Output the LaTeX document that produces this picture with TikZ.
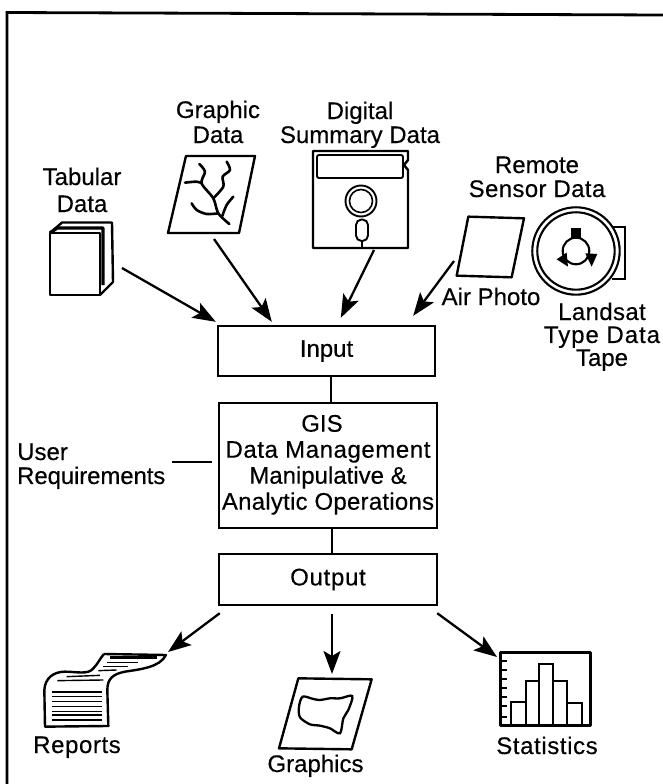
\documentclass[tikz,border=0pt]{standalone}
\usepackage{fontspec}
\setmainfont[FakeBold=0.35]{Liberation Sans}
\usetikzlibrary{arrows.meta,calc}
\newcommand\txt[4]{\fontsize{24}{#2}\selectfont\addfontfeature{LetterSpace=#3}\setlength{\tabcolsep}{0pt}\begin{tabular}[t]{#1}#4\end{tabular}}
\newcommand\lsp[1]{\addfontfeature{LetterSpace=#1}}
\tikzset{
  box/.style={draw,line width=2.4pt,inner sep=0pt,font=\fontsize{24}{26}\selectfont},
  lab/.style={inner sep=0pt,anchor=base},
  arr/.style={line width=2.3pt,-{Stealth[length=23pt,width=17pt,inset=5pt]}},
  conn/.style={line width=2pt},
  icon/.style={line width=2.4pt,line join=round},
  z1/.style={shift={(0,70)},x=0.3333pt,y=-0.3333pt},
  z2/.style={shift={(330,70)},x=0.3333pt,y=-0.3333pt},
  z3/.style={shift={(0,580)},x=0.3333pt,y=-0.3333pt},
  z4/.style={shift={(340,580)},x=0.3333pt,y=-0.3333pt},
  z8/.style={shift={(230,630)},x=0.3333pt,y=-0.3333pt},
}
\begin{document}
\begin{tikzpicture}[x=1pt,y=-1pt]
\useasboundingbox (0,0) rectangle (663,784);
% frame
\draw[line width=2.8pt] (7,784) -- (7,12.5) -- (663,15);
% boxes
\node[box,minimum width=217pt,minimum height=50pt] (input) at (326.5,351) {\raisebox{-2pt}{Input}};
\node[box,minimum width=218pt,minimum height=125pt] (gis) at (328,465.5)
  {\txt{c}{26}{0}{GIS\kern12pt\\ \lsp{2.4}Data Management\\ Manipulative \&\\ \lsp{1}Analytic Operations}};
\node[box,minimum width=218pt,minimum height=51pt] (output) at (328,579.5) {\raisebox{-1.5pt}{\lsp{3}Output}};
\draw[conn] (input.south -| 331,0) -- (gis.north -| 331,0);
\draw[conn] (gis.south -| 332,0) -- (output.north -| 332,0);
% labels
\node[lab] (tabularL) at (82,185) {\txt{c}{27}{0}{Tabular\\Data}};
\node[lab] (graphicL) at (218,118) {\txt{c}{25}{0}{Graphic\\Data}};
\node[lab] (digitalL) at (360,119) {\txt{c}{24}{0}{Digital\\Summary Data}};
\node[lab] (remoteL) at (537,173) {\txt{c}{24}{0}{Remote\\\lsp{1.5}Sensor Data}};
\node[lab] (airL) at (491,305) {\txt{c}{24}{0}{Air Photo}};
\node[lab] (landsatL) at (602,320) {\txt{c}{21.5}{0}{\lsp{1.5}Landsat\\\lsp{4}Type Data\\Tape}};
\node[lab,anchor=base west] (userL) at (17,460) {\txt{l}{22}{0}{User\\\lsp{-0.5}Requirements}};
\node[lab] (reportsL) at (77,753) {\txt{c}{24}{2.4}{Reports}};
\node[lab] (graphicsL) at (315.5,772) {\txt{c}{24}{0}{Graphics}};
\node[lab] (statsL) at (547,754) {\txt{c}{24}{2.5}{Statistics}};
% tabular data icon
\begin{scope}[icon]
\draw (50,233) -- (62,222.5) -- (112,222.5) -- (113,282) -- (100,295);
\draw[line width=3.4pt] (50,233) -- (57,228) -- (103,228) -- (103,285);
\draw[line width=2.6pt] (50,233) rectangle (100,295);
\end{scope}
% graphic data icon
\draw[icon] (186,156) -- (255,156) -- (239,233) -- (168,233) -- cycle;
\begin{scope}[z1,line width=2.6pt,line cap=round,line join=round]
\draw plot[smooth] coordinates {(688,462) (655,430) (640,385) (605,340) (615,305) (598,282)};
\draw plot[smooth] coordinates {(555,338) (590,335) (605,340)};
\draw plot[smooth] coordinates {(640,385) (670,350) (668,320) (690,300) (680,275)};
\draw plot[smooth] coordinates {(655,430) (620,432) (590,420) (575,400)};
\draw plot[smooth] coordinates {(667,438) (680,405) (700,380)};
\end{scope}
% floppy disk icon
\draw[icon] (313,151) -- (408,151) -- (408,160) -- (404,165) -- (408,170) -- (408,248) -- (313,248) -- cycle;
\draw[line width=1.9pt,rounded corners=2pt] (317,155) rectangle (403,178);
\draw[line width=1.9pt] (361,201) circle (15.5pt);
\draw[line width=1.6pt] (361,201) circle (11.5pt);
\draw[line width=1.9pt,rounded corners=5.5pt] (356,219.5) rectangle (368,241);
\draw[line width=1.6pt] (362,241) -- (362,248);
% air photo and tape icons
\begin{scope}[z2]
\draw[icon] (415,440) -- (582,445) -- (545,622) -- (380,617) -- cycle;
\draw[line width=2pt] (845,470) -- (885,470) -- (885,628) -- (845,628);
\fill[white] (738,543) circle (43.7pt);
\draw[line width=2.1pt] (738,543) circle (43.7pt);
\draw[line width=2.1pt] (738,543) circle (38.7pt);
\draw[line width=2.1pt] (738,543) circle (13.3pt);
\fill (724,474) -- (753,474) -- (753,508) -- (724,508) -- cycle;
\fill (680,568) -- (710,548) -- (714,590) -- cycle;
\fill (802,552) -- (766,550) -- (785,590) -- cycle;
\end{scope}
% reports icon
\begin{scope}[z3]
\draw[icon] (312,222) -- (498,225) .. controls (480,262) and (420,268) .. (375,275) .. controls (340,282) and (322,295) .. (322,330) -- (325,438) -- (135,440) -- (133,330) .. controls (135,295) and (160,275) .. (195,275) .. controls (230,275) and (265,285) .. (280,265) .. controls (295,250) and (300,235) .. (312,222);
\foreach \yy in {336,350,365,380,395,405,420} \draw[line width=1.4pt] (155,\yy) -- (305,\yy);
\draw[line width=1.4pt] (200,290) -- (300,286);
\draw[line width=1.4pt] (172,302) -- (310,300);
\draw[line width=2.4pt] (330,232) -- (470,232);
\draw[line width=1.4pt] (320,248) -- (415,248);
\draw[line width=1.4pt] (310,260) -- (385,260);
\draw[line width=1.4pt] (295,272) -- (350,270);
\end{scope}
% graphics icon
\begin{scope}[z8]
\draw[icon] (205,145) -- (425,148) -- (365,358) -- (147,355) -- cycle;
\draw[line width=2.3pt] plot[smooth cycle] coordinates {(218,200) (250,207) (270,210) (300,205) (330,205) (367,198) (355,240) (340,265) (330,310) (300,295) (270,287) (240,283) (210,262) (207,230)};
\end{scope}
% statistics icon
\begin{scope}[z4]
\draw[icon] (482,218) rectangle (752,436);
\foreach \yy in {243,270,297,323,352,378,410} \draw[line width=1.9pt] (482,\yy) -- (500,\yy);
\draw[line width=2pt] (514,436) -- (514,367) -- (557,367) -- (557,436);
\draw[line width=2pt] (557,367) -- (557,302) -- (597,302) -- (597,436);
\draw[line width=2pt] (597,302) -- (597,252) -- (638,252) -- (638,436);
\draw[line width=2pt] (638,302) -- (682,302) -- (682,436);
\draw[line width=2pt] (682,370) -- (725,370) -- (725,436);
\end{scope}
% connector free ends
\coordinate (tabularOut) at (122,268);
\coordinate (graphicOut) at (214,239);
\coordinate (digitalOut) at (374,250);
\coordinate (airOut) at (454,261);
\coordinate (reportsIn) at (168,652);
\coordinate (graphicsIn) at (332,674);
\coordinate (statsIn) at (497,657);
% arrows
\draw[arr] (tabularOut) -- ($(input.north west)+(-1,-3)$);
\draw[arr] (graphicOut) -- ($(input.north west)+(55,-3)$);
\draw[arr] (digitalOut) -- ($(input.north west)+(124,-7)$);
\draw[arr] (airOut) -- ($(input.north east)+(-23,-9)$);
\draw[arr] ($(output.south west)+(2,7)$) -- (reportsIn);
\draw[arr] ($(output.south)+(4,8)$) -- (graphicsIn);
\draw[arr] ($(output.south east)+(-1,7)$) -- (statsIn);
\coordinate (userOut) at (172,462);
\draw[line width=2.2pt] (userOut) -- ($(gis.west)+(-6,-3.5)$);
\end{tikzpicture}
\end{document}
